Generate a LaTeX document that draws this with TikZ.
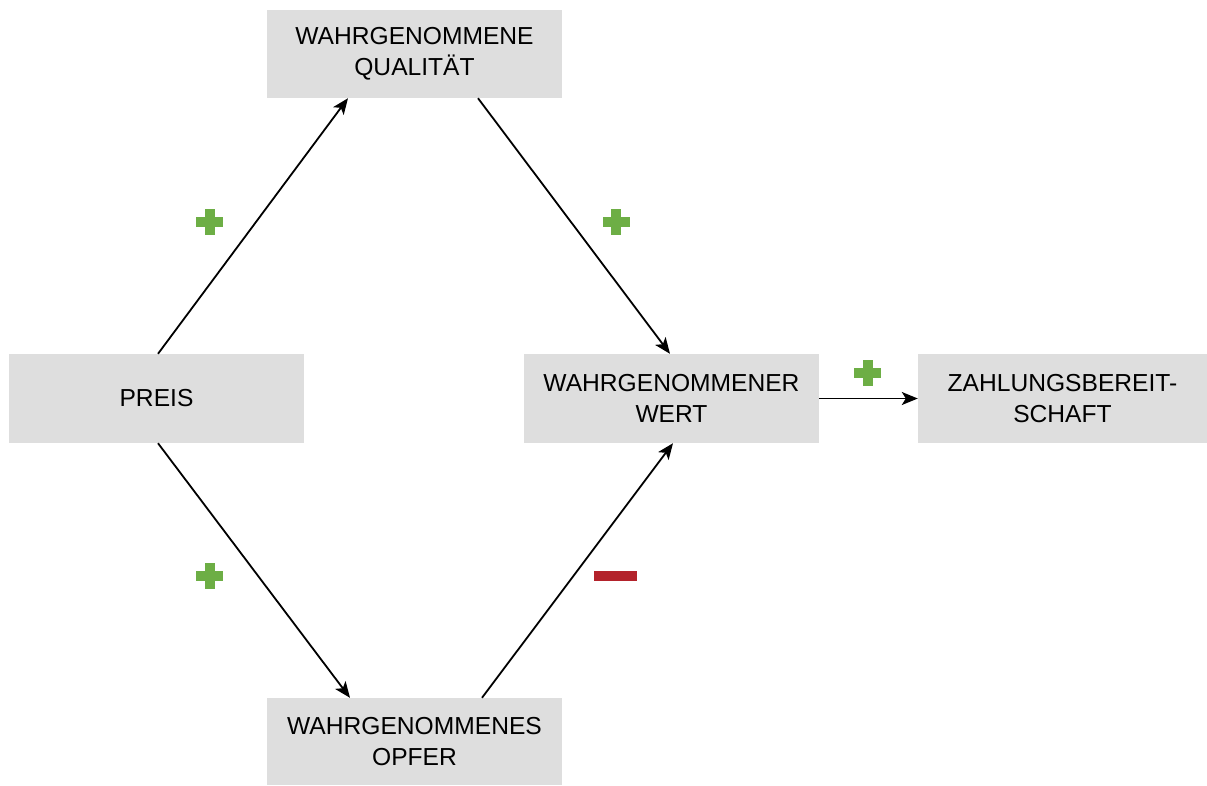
\documentclass[tikz,border=0pt]{standalone}
\usepackage{fontspec}
\setmainfont{Liberation Sans}
\usetikzlibrary{arrows.meta}
\definecolor{boxgray}{HTML}{DEDEDE}
\definecolor{plusgreen}{HTML}{6DAE45}
\definecolor{minusred}{HTML}{B3222B}
\begin{document}
\begin{tikzpicture}[x=1pt,y=-1pt,
  box/.style={fill=boxgray,draw=none,minimum width=295pt,minimum height=88pt,
    align=center,inner sep=0pt,font=\fontsize{24.6}{31}\selectfont},
  link/.style={line width=1.8pt,-{Stealth[length=16pt,width=13pt,inset=4pt]}},
  plussign/.pic={\fill[plusgreen] (-13.5,-5) rectangle (13.5,5);
                 \fill[plusgreen] (-5,-13) rectangle (5,13);},
  minussign/.pic={\fill[minusred] (-21.5,-5) rectangle (21.5,5);}]
\useasboundingbox (0,0) rectangle (1207,785);

% boxes
\node[box] (qual) at (414.5,54) {WAHRGENOMMENE\\QUALITÄT};
\node[box,minimum height=89pt] (preis) at (156.5,398.5) {PREIS};
\node[box,minimum height=89pt] (wert) at (671.5,398.5) {WAHRGENOMMENER\\WERT};
\node[box,minimum width=289pt,minimum height=89pt] (zahl) at (1062.5,398.5) {ZAHLUNGSBEREIT-\\SCHAFT};
\node[box,minimum height=87pt] (opfer) at (414.5,741.5) {WAHRGENOMMENES\\OPFER};

% influences
\draw[link] ([xshift=1.5pt]preis.north) -- ([xshift=-66.5pt]qual.south);
\draw[link] ([xshift=63.5pt]qual.south) -- ([xshift=-1.5pt]wert.north);
\draw[link] ([xshift=1.5pt]preis.south) -- ([xshift=-64.5pt]opfer.north);
\draw[link] ([xshift=67.5pt]opfer.north) -- ([xshift=1.5pt]wert.south);
\draw[link] (wert.east) -- (zahl.west);

% signs of the effects
\pic at (209.5,222) {plussign};
\pic at (616,222) {plussign};
\pic at (209.5,576) {plussign};
\pic at (867.5,372.5) {plussign};
\pic at (615.5,576) {minussign};
\end{tikzpicture}
\end{document}
